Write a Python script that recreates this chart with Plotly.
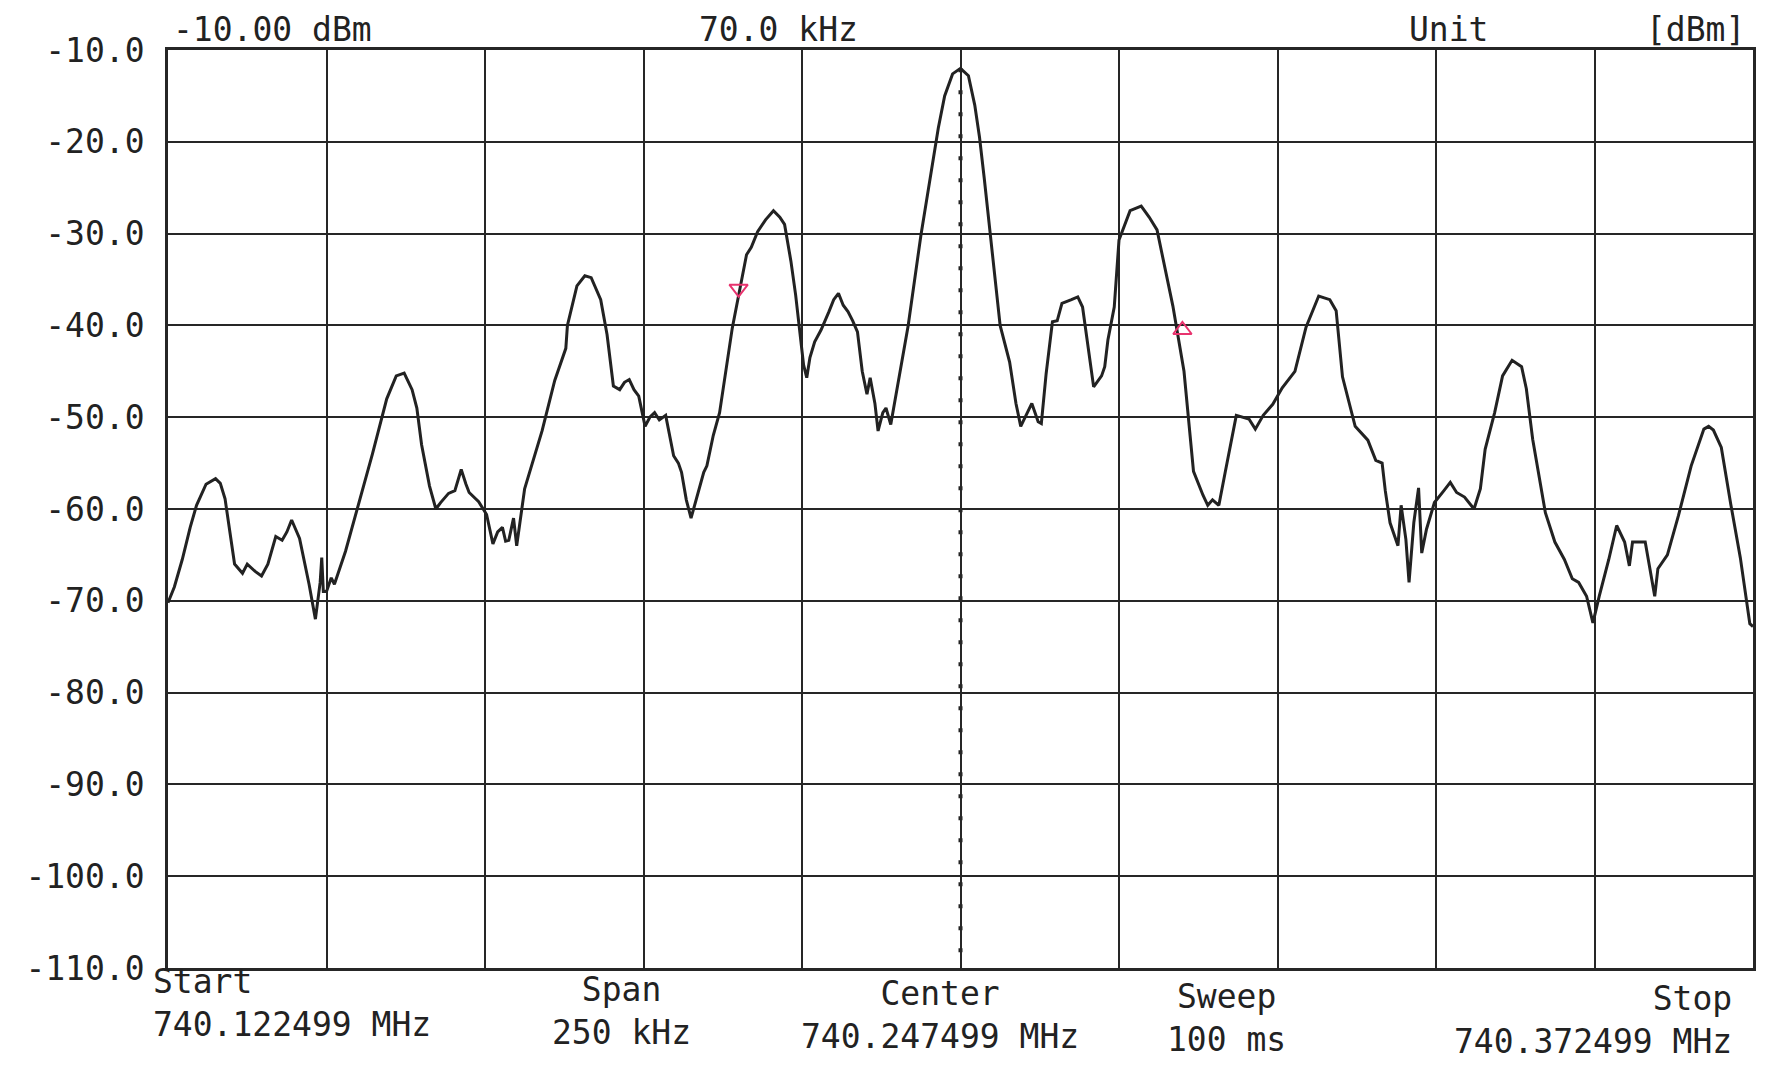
import plotly.graph_objects as go

# ---------------- data ----------------
start_mhz = 740.122499
span_khz = 250.0
center_mhz = 740.247499
stop_mhz = 740.372499

# trace: frequency offset from start (kHz) and level (dBm)
offset_khz = [
    0.0, 1.0, 2.25, 3.5, 4.5, 6.0, 7.5, 8.25, 9.0, 10.5, 11.75, 12.5, 13.75, 14.75, 15.75,
    17.0, 18.0, 18.75, 19.5, 20.75, 22.25, 23.25, 24.0, 24.25, 24.5, 25.0, 25.75, 26.25,
    28.0, 30.25, 32.25, 34.5, 36.0, 37.25, 38.5, 39.25, 40.0, 41.25, 42.25, 43.0, 44.25,
    45.25, 46.25, 47.0, 47.5, 49.0, 50.25, 51.25, 52.0, 52.75, 53.25, 53.75, 54.5, 55.0,
    56.25, 59.0, 61.0, 62.75, 63.0, 64.5, 65.75, 66.75, 68.25, 69.25, 70.25, 71.25, 72.0,
    72.75, 73.5, 74.25, 75.25, 76.0, 76.75, 77.5, 78.5, 79.75, 80.5, 81.0, 81.75, 82.5,
    83.75, 84.5, 85.0, 86.0, 87.0, 89.0, 91.25, 92.0, 93.0, 94.25, 95.5, 96.5, 97.25,
    98.25, 99.0, 100.25, 100.75, 101.25, 102.0, 103.0, 104.25, 105.0, 105.75, 106.5,
    107.25, 108.0, 108.75, 109.5, 110.25, 110.75, 111.5, 112.0, 112.75, 113.25, 114.0,
    115.25, 116.75, 118.75, 120.25, 121.5, 122.5, 123.75, 125.0, 126.25, 127.25, 128.0,
    128.75, 130.0, 131.25, 132.75, 133.75, 134.5, 135.25, 136.25, 137.25, 137.75, 138.5,
    139.0, 139.5, 140.25, 141.0, 142.5, 143.5, 144.25, 145.0, 146.0, 147.25, 147.75,
    148.25, 149.25, 150.0, 151.75, 153.5, 154.75, 156.0, 157.0, 158.5, 160.25, 161.75,
    163.25, 164.0, 164.75, 165.75, 166.75, 168.5, 170.5, 171.5, 172.75, 174.25, 175.75,
    177.75, 179.5, 181.5, 183.25, 184.25, 185.25, 187.25, 189.25, 190.5, 191.5, 192.0,
    192.75, 193.5, 194.0, 194.5, 195.25, 195.75, 196.5, 197.25, 197.75, 198.5, 199.75,
    201.25, 202.25, 203.25, 204.5, 206.0, 207.0, 207.75, 209.25, 210.5, 212.0, 213.5,
    214.25, 215.25, 217.25, 218.75, 220.25, 221.5, 222.5, 223.75, 224.75, 225.75, 227.25,
    228.5, 229.75, 230.5, 231.0, 233.0, 234.5, 235.0, 236.5, 238.25, 240.25, 242.25,
    243.0, 243.75, 245.0, 246.5, 248.0, 249.5, 250.0,
]
level_dbm = [
    -70.2, -68.5, -65.5, -62.0, -59.6, -57.3, -56.7, -57.2, -58.9, -66.0, -67.0, -66.0, -66.8, -67.3, -66.0,
    -63.0, -63.4, -62.5, -61.2, -63.2, -68.2, -72.0, -68.0, -65.3, -69.0, -69.0, -67.5, -68.2,
    -64.6, -59.0, -54.0, -48.0, -45.5, -45.2, -47.0, -49.0, -53.0, -57.5, -60.0, -59.3, -58.3,
    -58.0, -55.7, -57.3, -58.2, -59.2, -60.6, -63.8, -62.5, -62.0, -63.5, -63.4, -61.0, -64.0,
    -57.8, -51.5, -46.0, -42.5, -40.0, -35.7, -34.6, -34.8, -37.2, -41.0, -46.6, -47.0, -46.2,
    -45.9, -47.0, -47.7, -51.0, -50.0, -49.5, -50.3, -49.8, -54.2, -55.0, -56.0, -59.0, -61.0,
    -58.0, -56.0, -55.3, -52.0, -49.5, -40.3, -32.3, -31.5, -29.8, -28.5, -27.5, -28.2, -29.0,
    -33.0, -36.7, -44.3, -45.7, -43.5, -41.8, -40.5, -38.5, -37.2, -36.5, -37.8,
    -38.5, -39.5, -40.7, -45.0, -47.5, -45.7, -48.5, -51.5, -49.5, -49.0, -50.8,
    -46.0, -40.0, -30.2, -24.0, -18.5, -15.0, -12.6, -12.0, -12.8, -16.0, -19.5,
    -24.0, -32.0, -40.0, -44.0, -48.5, -51.0, -50.0, -48.5, -50.5, -50.7, -45.3,
    -42.4, -39.6, -39.5, -37.6, -37.2, -36.9, -38.0, -41.6, -46.7, -45.5, -44.5,
    -41.6, -38.0, -30.7, -27.5, -27.0, -28.2, -29.6, -32.8, -37.9, -45.0, -55.9, -58.5,
    -59.6, -59.0, -59.6, -56.0, -49.8, -50.2, -51.3, -49.8, -48.6, -46.8, -45.0,
    -40.2, -36.8, -37.2, -38.4, -45.6, -51.0, -52.5, -54.7, -55.0, -58.0, -61.5,
    -63.0, -64.0, -59.6, -63.3, -68.0, -61.5, -57.7, -64.8, -62.2, -59.3, -58.0,
    -57.1, -58.2, -58.7, -60.0, -57.8, -53.5, -49.5, -45.5, -43.8, -44.5, -46.9,
    -52.4, -60.4, -63.6, -65.5, -67.6, -68.0, -69.5, -72.4, -69.5, -65.5, -61.8,
    -63.6, -66.2, -63.6, -63.6, -69.5, -66.5, -65.0, -60.7, -55.3, -51.3, -51.0,
    -51.4, -53.3, -59.5, -65.3, -72.5, -72.8,
]

# delta markers (pink triangles)
marker_khz = [90.0, 160.0]
marker_dbm = [-36.0, -40.5]
marker_symbols = ["triangle-down-open", "triangle-up-open"]

# center marker line top level
center_peak_dbm = -12.0

y_ticks = [-10, -20, -30, -40, -50, -60, -70, -80, -90, -100, -110]
y_ticklabels = [f"{v:.1f}" for v in y_ticks]
x_divisions = 10

# ---------------- figure ----------------
freq_mhz = [start_mhz + k / 1000.0 for k in offset_khz]
mk_mhz = [start_mhz + k / 1000.0 for k in marker_khz]
x_grid = [start_mhz + i * span_khz / 1000.0 / x_divisions for i in range(x_divisions + 1)]

FONT = "DejaVu Sans Mono"
INK = "#222222"

fig = go.Figure()
fig.add_trace(go.Scatter(
    x=freq_mhz, y=level_dbm, mode="lines",
    line=dict(color=INK, width=3), showlegend=False, hoverinfo="skip",
))
fig.add_trace(go.Scatter(
    x=mk_mhz, y=marker_dbm, mode="markers",
    marker=dict(symbol=marker_symbols, size=16, color="#e8336e",
                line=dict(color="#e8336e", width=2)),
    showlegend=False, hoverinfo="skip",
))

# dotted center line
fig.add_shape(type="line", xref="x", yref="y",
              x0=center_mhz, x1=center_mhz, y0=center_peak_dbm, y1=y_ticks[-1],
              line=dict(color=INK, width=4, dash="4px,18px"), layer="below")

fig.update_xaxes(
    range=[start_mhz, stop_mhz], tickvals=x_grid, showticklabels=False,
    showgrid=True, gridcolor="#262626", gridwidth=2.2,
    showline=True, linecolor="#262626", linewidth=2.6, mirror=True,
    zeroline=False, ticks="",
)
fig.update_yaxes(
    range=[y_ticks[-1], y_ticks[0]], tickvals=y_ticks, ticktext=y_ticklabels,
    showgrid=True, gridcolor="#262626", gridwidth=2.2,
    showline=True, linecolor="#262626", linewidth=2.6, mirror=True,
    zeroline=False, ticks="", ticklabelstandoff=14,
    tickfont=dict(family=FONT, size=33, color=INK),
)

L, R, T, B = 160, 20, 42, 114
W, H = 1765, 1074
pw, ph = W - L - R, H - T - B


def px(xpix):
    return (xpix - L) / pw


def py(ypix):
    return (H - B - ypix) / ph


ann_font = dict(family=FONT, size=33, color=INK)
bottom = [
    ("Start<br>740.122499 MHz", 143, 952, "left", "left"),
    ("Span<br>250 kHz", 613, 960, "center", "center"),
    ("Center<br>740.247499 MHz", 932, 964, "center", "center"),
    ("Sweep<br>100 ms", 1218, 967, "center", "center"),
    ("Stop<br>740.372499 MHz", 1726, 969, "right", "right"),
]
for text, xp, yp, xa, al in bottom:
    fig.add_annotation(text=text, xref="paper", yref="paper", x=px(xp), y=py(yp),
                       xanchor=xa, yanchor="top", align=al, showarrow=False,
                       font=ann_font)

top = [
    ("-10.00 dBm", 366, 22, "right"),
    ("70.0 kHz", 852, 22, "right"),
    ("Unit", 1399, 22, "left"),
    ("[dBm]", 1739, 22, "right"),
]
for text, xp, yp, xa in top:
    fig.add_annotation(text=text, xref="paper", yref="paper", x=px(xp), y=py(yp),
                       xanchor=xa, yanchor="middle", showarrow=False, font=ann_font)

fig.update_layout(
    width=W, height=H, margin=dict(l=L, r=R, t=T, b=B),
    paper_bgcolor="white", plot_bgcolor="white",
    font=dict(family=FONT, color=INK),
)

fig.write_html("out.html")
